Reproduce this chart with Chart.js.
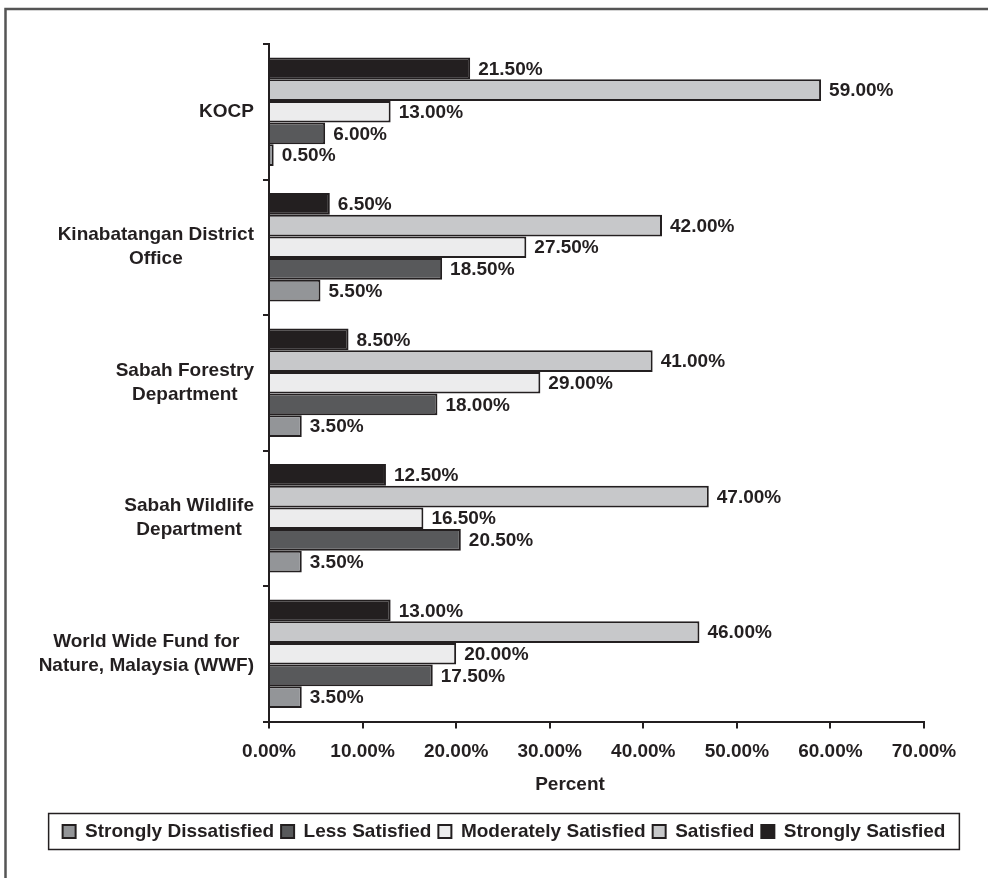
<!DOCTYPE html>
<html>
<head>
<meta charset="utf-8">
<script src="https://cdn.jsdelivr.net/npm/chart.js@4/dist/chart.umd.min.js"></script>
<style>
  html, body { margin: 0; padding: 0; background: #fff; }
  canvas { display: block; }
</style>
</head>
<body>
<canvas id="satChart" width="988" height="878"></canvas>
<script>
// categories (top to bottom)
var categories = [
    ['KOCP'],
    ['Kinabatangan District', 'Office'],
    ['Sabah Forestry', 'Department'],
    ['Sabah Wildlife', 'Department'],
    ['World Wide Fund for', 'Nature, Malaysia (WWF)']
];

// series values in percent
var stronglySatisfied     = [21.5, 6.5, 8.5, 12.5, 13.0];
var satisfied             = [59.0, 42.0, 41.0, 47.0, 46.0];
var moderatelySatisfied   = [13.0, 27.5, 29.0, 16.5, 20.0];
var lessSatisfied         = [6.0, 18.5, 18.0, 20.5, 17.5];
var stronglyDissatisfied  = [0.5, 5.5, 3.5, 3.5, 3.5];

var xTicks = [0, 10, 20, 30, 40, 50, 60, 70];

var INK = '#231f20';
var FONT = '"Liberation Sans", Arial, sans-serif';

function pct(v) { return v.toFixed(2) + '%'; }

// page frame + white background
var framePlugin = {
    id: 'frame',
    beforeDraw: function (chart) {
        var c = chart.ctx;
        c.save();
        c.fillStyle = '#fff';
        c.fillRect(0, 0, chart.width, chart.height);
        c.strokeStyle = '#555555';
        c.lineWidth = 2.5;
        c.beginPath();
        c.moveTo(chart.width, 9);
        c.lineTo(5.5, 9);
        c.lineTo(5.5, chart.height);
        c.stroke();
        c.restore();
    }
};

// move the legend so it sits centred under the whole figure
var legendShift = {
    id: 'legendShift',
    afterLayout: function (chart) {
        var lg = chart.legend;
        if (lg) {
            lg.left += 42;
            lg.right += 42;
        }
    }
};

// category labels, value labels, axis title, legend box
var labelPlugin = {
    id: 'labels',
    afterDraw: function (chart) {
        var c = chart.ctx;
        var y = chart.scales.y;
        c.save();
        c.fillStyle = INK;
        c.font = 'bold 19px ' + FONT;
        c.textBaseline = 'middle';
        c.textAlign = 'center';

        // y category labels: block right aligned, lines centered
        categories.forEach(function (lines, i) {
            var cy = y.getPixelForValue(i);
            var widest = 0;
            lines.forEach(function (l) { widest = Math.max(widest, c.measureText(l).width); });
            var cx = 254 - widest / 2;
            var lh = 24;
            var top = cy - (lines.length - 1) * lh / 2;
            lines.forEach(function (l, k) { c.fillText(l, cx, top + k * lh); });
        });

        // bar value labels
        c.textAlign = 'left';
        chart.data.datasets.forEach(function (ds, di) {
            var meta = chart.getDatasetMeta(di);
            meta.data.forEach(function (bar, i) {
                c.fillText(pct(ds.data[i]), bar.x + 8, bar.y + 1);
            });
        });

        // x axis title
        c.textAlign = 'center';
        c.fillText('Percent', 570, 785);

        // legend border
        var boxes = chart.legend.legendHitBoxes;
        if (boxes && boxes.length) {
            var l = Infinity, r = -Infinity, mid = 0;
            boxes.forEach(function (b) {
                l = Math.min(l, b.left);
                r = Math.max(r, b.left + b.width);
                mid = b.top + b.height / 2;
            });
            c.strokeStyle = INK;
            c.lineWidth = 1.5;
            c.strokeRect(l - 14, mid - 18, (r + 14) - (l - 14), 36);
        }
        c.restore();
    }
};

function mk(label, data, color) {
    return {
        label: label,
        data: data,
        backgroundColor: color,
        borderColor: INK,
        borderWidth: 2,
        borderSkipped: 'left',
        categoryPercentage: 0.8,
        barPercentage: 1.0
    };
}

var ctx = document.getElementById('satChart').getContext('2d');

var satChart = new Chart(ctx, {
    type: 'bar',
    data: {
        labels: categories.map(function (c) { return c.join(' '); }),
        datasets: [
            mk('Strongly Satisfied', stronglySatisfied, '#231f20'),
            mk('Satisfied', satisfied, '#c7c8ca'),
            mk('Moderately Satisfied', moderatelySatisfied, '#ececed'),
            mk('Less Satisfied', lessSatisfied, '#58595b'),
            mk('Strongly Dissatisfied', stronglyDissatisfied, '#939598')
        ]
    },
    options: {
        indexAxis: 'y',
        responsive: false,
        animation: false,
        devicePixelRatio: 1,
        layout: { padding: { top: 44, right: 64, bottom: 27, left: 0 } },
        plugins: {
            legend: {
                position: 'bottom',
                reverse: true,
                labels: {
                    boxWidth: 13,
                    boxHeight: 13,
                    padding: 7,
                    color: INK,
                    font: { family: FONT, size: 19, weight: 'bold' }
                }
            },
            tooltip: { enabled: false }
        },
        scales: {
            y: {
                ticks: { display: false },
                grid: { drawOnChartArea: false, tickLength: 6, color: INK, lineWidth: 2, offset: true },
                border: { color: INK, width: 2 },
                afterFit: function (s) { s.width = 269; }
            },
            x: {
                min: 0,
                max: 70,
                afterBuildTicks: function (s) {
                    s.ticks = xTicks.map(function (v) { return { value: v }; });
                },
                ticks: {
                    padding: 12,
                    color: INK,
                    font: { family: FONT, size: 19, weight: 'bold' },
                    callback: function (v) { return pct(v); }
                },
                grid: { drawOnChartArea: false, tickLength: 7, color: INK, lineWidth: 2 },
                border: { color: INK, width: 2 },
                afterFit: function (s) { s.height = 93.5; }
            }
        }
    },
    plugins: [framePlugin, legendShift, labelPlugin]
});
</script>
</body>
</html>
